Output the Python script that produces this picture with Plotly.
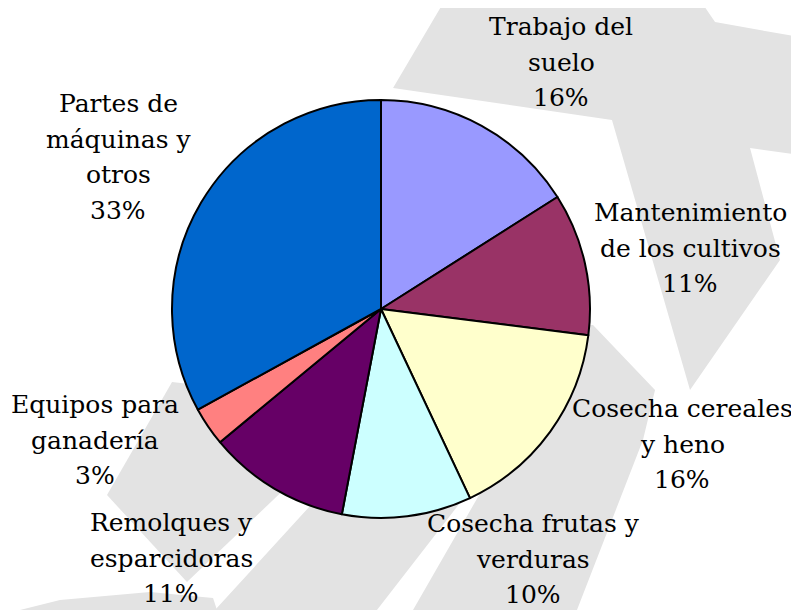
import plotly.graph_objects as go

W, H = 799, 610
OFF = 8  # page body margin of the default html page

categories = [
    "Trabajo del<br>suelo",
    "Mantenimiento<br>de los cultivos",
    "Cosecha cereales<br>y heno",
    "Cosecha frutas y<br>verduras",
    "Remolques y<br>esparcidoras",
    "Equipos para<br>ganadería",
    "Partes de<br>máquinas y<br>otros",
]
values = [16, 11, 16, 10, 11, 3, 33]
colors = ["#9999FF", "#993366", "#FFFFCC", "#CCFFFF", "#660066", "#FF8080", "#0066CC"]

# label block centres (screen px) - layout only
label_centers = [(561, 62), (690, 248), (682, 444), (533, 559), (171, 558), (95, 440), (118, 157)]
LINE_STEP = 35.5
FONT = dict(family="DejaVu Serif", size=25, color="black")

# Background watermark (decorative), screen-pixel outlines
watermark_px = [
    [(445, 0), (700, 0), (715, 22), (799, 37), (799, 155), (750, 148), (780, 260),
     (690, 390), (612, 120), (393, 88)],
    [(413, 610), (577, 610), (643, 440), (655, 390), (593, 325), (500, 330), (482, 490)],
    [(215, 610), (377, 610), (470, 490), (380, 400), (320, 495)],
    [(107, 495), (172, 382), (240, 390), (292, 482), (187, 582)],
    [(20, 610), (60, 600), (150, 592), (213, 598), (217, 610)],
]


def fx(x):
    return (x - OFF) / W


def fy(y):
    return 1 - (y - OFF) / H


def to_path(pts):
    s = ""
    for i, (x, y) in enumerate(pts):
        s += ("M" if i == 0 else "L") + f"{fx(x):.4f},{fy(y):.4f} "
    return s + "Z"


shapes = [
    dict(type="path", xref="paper", yref="paper", path=to_path(p),
         fillcolor="#e3e3e3", line=dict(width=0), layer="below")
    for p in watermark_px
]

cx, cy, r = 381, 309, 209

fig = go.Figure(go.Pie(
    labels=categories,
    values=values,
    marker=dict(colors=colors, line=dict(color="black", width=2)),
    sort=False,
    direction="clockwise",
    rotation=0,
    textinfo="none",
    showlegend=False,
    domain=dict(x=[fx(cx - r), fx(cx + r)], y=[fy(cy + r), fy(cy - r)]),
    hoverinfo="label+percent",
))

total = sum(values)
annotations = []
for cat, v, (lx, ly) in zip(categories, values, label_centers):
    lines = cat.split("<br>") + [f"{round(100 * v / total)}%"]
    n = len(lines)
    for i, t in enumerate(lines):
        yy = ly + (i - (n - 1) / 2) * LINE_STEP
        annotations.append(dict(
            x=fx(lx), y=fy(yy), xref="paper", yref="paper", text=t,
            showarrow=False, xanchor="center", yanchor="middle", font=FONT,
        ))

fig.update_layout(
    width=W, height=H,
    margin=dict(l=0, r=0, t=0, b=0),
    paper_bgcolor="white",
    plot_bgcolor="white",
    shapes=shapes,
    annotations=annotations,
)

fig.write_html("out.html", config={"displayModeBar": False})
